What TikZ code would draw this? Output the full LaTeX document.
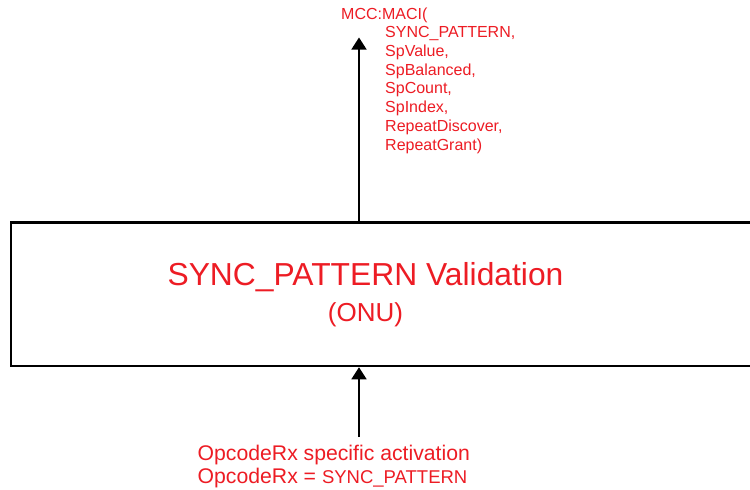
\documentclass[tikz,border=0pt]{standalone}
\usepackage{fontspec}
\setmainfont{Liberation Sans}
\usetikzlibrary{arrows.meta}
\definecolor{lblred}{RGB}{237,28,36}
\begin{document}
\begin{tikzpicture}[x=1pt,y=-1pt,
  boxst/.style={draw=black,line width=2.5pt,inner sep=0pt,minimum width=769pt,minimum height=143.5pt},
  lbl/.style={text=lblred,inner sep=0pt},
  arr/.style={draw=black,line width=1.5pt,-{Triangle[width=15pt,length=12pt]}}]
\useasboundingbox (0,0) rectangle (750,490);
\clip (0,0) rectangle (750,490);
\fill[white] (0,0) rectangle (750,490);
% main box (right side runs off the picture)
\node[boxst] (box) at (395.5,294.25) {};
\node[lbl,anchor=base,font=\fontsize{31.8}{36}\selectfont] (title) at (365.5,285) {SYNC\_PATTERN Validation};
\node[lbl,anchor=base,font=\fontsize{26}{30}\selectfont] (sub) at (365.5,321) {(ONU)};
% top output label
\node[lbl,anchor=north west,align=left,font=\fontsize{16}{18.7}\selectfont] (maci) at (341,7.4)
 {MCC:MACI(\\
  \hspace*{44pt}SYNC\_PATTERN,\\
  \hspace*{44pt}SpValue,\\
  \hspace*{44pt}SpBalanced,\\
  \hspace*{44pt}SpCount,\\
  \hspace*{44pt}SpIndex,\\
  \hspace*{44pt}RepeatDiscover,\\
  \hspace*{44pt}RepeatGrant)};
% bottom input label
\node[lbl,anchor=north west,align=left,font=\fontsize{21.2}{23}\selectfont] (opc) at (197.5,444.5)
 {OpcodeRx specific activation\\
  OpcodeRx = {\fontsize{18.5}{23}\selectfont SYNC\_PATTERN}};
% connectors
\coordinate (topTip) at (359,37.5);
\coordinate (botTail) at (359,437);
\draw[arr] (box.north -| topTip) -- (topTip);
\draw[arr] (botTail) -- (botTail |- box.south);
\end{tikzpicture}
\end{document}
